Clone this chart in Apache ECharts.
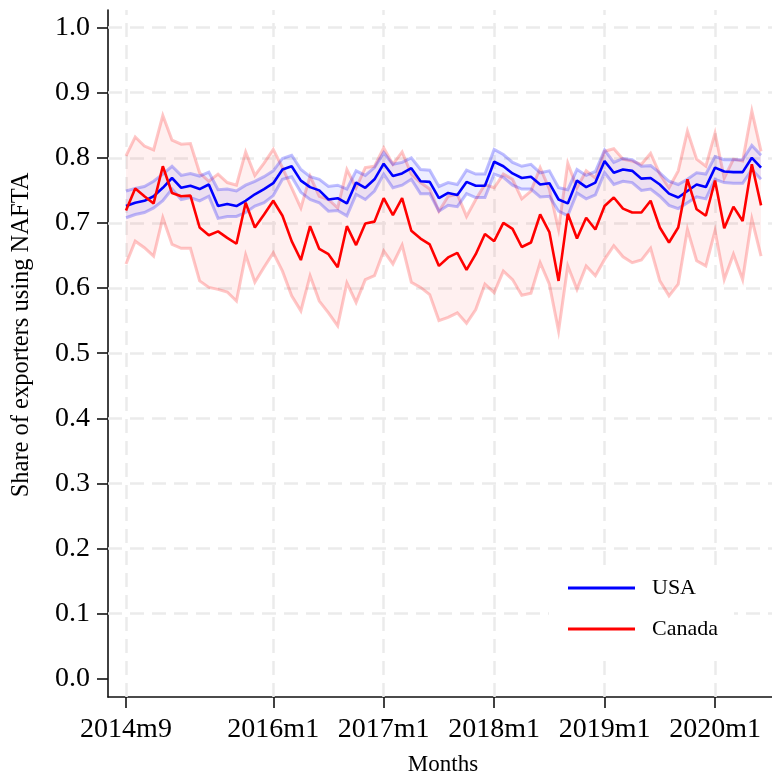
<!DOCTYPE html>
<html>
<head>
<meta charset="utf-8">
<script src="https://cdn.jsdelivr.net/npm/echarts@6/dist/echarts.min.js"></script>
<style>
  html, body { margin: 0; padding: 0; background: #fff; }
  #chart { width: 772px; height: 782px; }
</style>
</head>
<body>
<div id="chart"></div>
<script>
// Monthly series, first month 2014m9
const startYear = 2014;
const startMonth = 9;

// Share of exporters using NAFTA: point estimates
const usa = [
  0.726, 0.731, 0.734, 0.741, 0.754, 0.769, 0.754, 0.757, 0.752, 0.759,
  0.726, 0.729, 0.726, 0.734, 0.744, 0.752, 0.761, 0.782, 0.787, 0.765,
  0.755, 0.750, 0.736, 0.738, 0.730, 0.762, 0.754, 0.767, 0.791, 0.772,
  0.776, 0.784, 0.764, 0.763, 0.738, 0.746, 0.743, 0.763, 0.757, 0.757,
  0.794, 0.787, 0.776, 0.769, 0.771, 0.759, 0.761, 0.736, 0.730, 0.765,
  0.755, 0.762, 0.795, 0.777, 0.782, 0.780, 0.768, 0.769, 0.759, 0.745,
  0.739, 0.749, 0.759, 0.755, 0.785, 0.779, 0.778, 0.778, 0.800, 0.785
];
const canada = [
  0.719, 0.753, 0.741, 0.730, 0.787, 0.746, 0.741, 0.742, 0.693, 0.681,
  0.687, 0.677, 0.668, 0.731, 0.693, 0.713, 0.734, 0.711, 0.672, 0.643,
  0.695, 0.660, 0.652, 0.632, 0.695, 0.666, 0.699, 0.702, 0.738, 0.712,
  0.738, 0.688, 0.676, 0.667, 0.634, 0.647, 0.654, 0.628, 0.652, 0.683,
  0.672, 0.700, 0.691, 0.663, 0.670, 0.713, 0.686, 0.611, 0.714, 0.676,
  0.708, 0.690, 0.726, 0.739, 0.722, 0.716, 0.716, 0.734, 0.693, 0.670,
  0.693, 0.767, 0.721, 0.711, 0.765, 0.692, 0.725, 0.703, 0.790, 0.727
];

// Confidence bands
const usaLo = [
  0.708, 0.713, 0.716, 0.723, 0.734, 0.752, 0.736, 0.739, 0.734, 0.741,
  0.707, 0.710, 0.710, 0.716, 0.726, 0.731, 0.742, 0.767, 0.771, 0.747,
  0.736, 0.731, 0.718, 0.719, 0.711, 0.744, 0.736, 0.749, 0.775, 0.754,
  0.758, 0.767, 0.745, 0.745, 0.718, 0.727, 0.725, 0.745, 0.739, 0.739,
  0.775, 0.770, 0.758, 0.752, 0.752, 0.740, 0.741, 0.718, 0.711, 0.746,
  0.737, 0.743, 0.777, 0.759, 0.764, 0.762, 0.750, 0.752, 0.741, 0.727,
  0.722, 0.731, 0.740, 0.737, 0.767, 0.762, 0.761, 0.761, 0.782, 0.767
];
const usaHi = [
  0.749, 0.753, 0.756, 0.764, 0.775, 0.787, 0.773, 0.776, 0.772, 0.778,
  0.751, 0.752, 0.749, 0.758, 0.764, 0.771, 0.780, 0.799, 0.804, 0.782,
  0.771, 0.767, 0.756, 0.758, 0.752, 0.780, 0.773, 0.785, 0.808, 0.790,
  0.793, 0.800, 0.782, 0.781, 0.756, 0.762, 0.759, 0.781, 0.775, 0.775,
  0.813, 0.805, 0.793, 0.787, 0.790, 0.777, 0.780, 0.754, 0.751, 0.782,
  0.773, 0.779, 0.812, 0.793, 0.799, 0.797, 0.787, 0.788, 0.777, 0.764,
  0.759, 0.767, 0.777, 0.775, 0.802, 0.797, 0.797, 0.797, 0.819, 0.804
];
const canLo = [
  0.637, 0.672, 0.662, 0.649, 0.708, 0.667, 0.661, 0.661, 0.611, 0.601,
  0.598, 0.594, 0.580, 0.651, 0.609, 0.632, 0.654, 0.626, 0.588, 0.565,
  0.619, 0.580, 0.562, 0.542, 0.608, 0.578, 0.613, 0.619, 0.657, 0.637,
  0.666, 0.609, 0.601, 0.590, 0.550, 0.555, 0.562, 0.546, 0.567, 0.606,
  0.593, 0.626, 0.613, 0.589, 0.592, 0.639, 0.606, 0.534, 0.634, 0.598,
  0.634, 0.619, 0.644, 0.665, 0.648, 0.639, 0.643, 0.661, 0.611, 0.588,
  0.606, 0.690, 0.642, 0.634, 0.688, 0.613, 0.652, 0.613, 0.706, 0.649
];
const canHi = [
  0.803, 0.832, 0.818, 0.812, 0.865, 0.827, 0.821, 0.822, 0.777, 0.764,
  0.775, 0.762, 0.758, 0.809, 0.773, 0.792, 0.813, 0.785, 0.754, 0.723,
  0.772, 0.741, 0.736, 0.723, 0.782, 0.754, 0.785, 0.787, 0.815, 0.790,
  0.809, 0.775, 0.762, 0.752, 0.718, 0.741, 0.744, 0.710, 0.736, 0.759,
  0.754, 0.775, 0.767, 0.737, 0.749, 0.785, 0.752, 0.690, 0.792, 0.754,
  0.780, 0.769, 0.810, 0.814, 0.798, 0.795, 0.790, 0.807, 0.775, 0.754,
  0.780, 0.841, 0.798, 0.787, 0.838, 0.769, 0.798, 0.795, 0.872, 0.810
];

// Axis tick labels
const xTickLabels = ['2014m9', '2016m1', '2017m1', '2018m1', '2019m1', '2020m1'];
const yTicks = [0, 0.1, 0.2, 0.3, 0.4, 0.5, 0.6, 0.7, 0.8, 0.9, 1.0];

// Month labels such as "2015m3", indexed from the first month
const months = usa.map((_, i) => {
  const m = startMonth - 1 + i;
  return (startYear + Math.floor(m / 12)) + 'm' + ((m % 12) + 1);
});
const xTicks = xTickLabels.map(l => months.indexOf(l));

const pts = arr => arr.map((v, i) => [i, v]);

const FONT = "'Liberation Serif', 'Times New Roman', serif";
const GRID_LINE = { color: '#ebebeb', width: 2.5, type: [14, 8] };

// Shaded range between two bounds, outlined along both edges
function bandSeries(name, lo, hi, edge, fill, z) {
  return {
    name: name,
    type: 'custom',
    z: z,
    silent: true,
    data: lo.map((v, i) => [i, v, hi[i]]),
    encode: { x: 0, y: [1, 2] },
    renderItem: (params, api) => {
      if (params.dataIndexInside !== 0) return null;
      const n = params.dataInsideLength;
      const upper = [], lower = [];
      for (let j = 0; j < n; j++) {
        const x = api.value(0, j);
        upper.push(api.coord([x, api.value(2, j)]));
        lower.push(api.coord([x, api.value(1, j)]));
      }
      return {
        type: 'group',
        children: [
          { type: 'polygon', shape: { points: upper.concat(lower.slice().reverse()) }, style: { fill: fill, stroke: null } },
          { type: 'polyline', shape: { points: upper }, style: { fill: null, stroke: edge, lineWidth: 3 } },
          { type: 'polyline', shape: { points: lower }, style: { fill: null, stroke: edge, lineWidth: 3 } }
        ]
      };
    }
  };
}

const chart = echarts.init(document.getElementById('chart'), null, { renderer: 'canvas' });

chart.setOption({
  animation: false,
  backgroundColor: '#fff',
  grid: { left: 108, right: 0, top: 10, bottom: 85, containLabel: false },
  xAxis: {
    type: 'value',
    min: -1.956,
    max: 70.19,
    axisLine: { show: true, onZero: false, lineStyle: { color: '#111', width: 1.6 } },
    axisTick: { show: true, length: 11, customValues: xTicks, lineStyle: { color: '#111', width: 1.6 } },
    axisLabel: {
      customValues: xTicks,
      formatter: v => months[Math.round(v)],
      margin: 19,
      fontFamily: FONT, fontSize: 28, color: '#000'
    },
    splitLine: { show: false }
  },
  yAxis: {
    type: 'value',
    min: -0.028,
    max: 1.027,
    axisLine: { show: true, onZero: false, lineStyle: { color: '#111', width: 1.6 } },
    axisTick: { show: true, length: 11, customValues: yTicks, lineStyle: { color: '#111', width: 1.6 } },
    axisLabel: {
      customValues: yTicks,
      formatter: v => v.toFixed(1),
      margin: 18,
      fontFamily: FONT, fontSize: 28, color: '#000'
    },
    splitLine: { show: false }
  },
  legend: {
    orient: 'vertical',
    left: 549,
    top: 565,
    z: 20,
    data: [{ name: 'USA', icon: 'rect' }, { name: 'Canada', icon: 'rect' }],
    backgroundColor: '#fff',
    padding: [11, 16, 14, 19],
    itemWidth: 67,
    itemHeight: 3,
    itemGap: 17,
    textStyle: { fontFamily: FONT, fontSize: 22, lineHeight: 24, color: '#000', padding: [0, 0, 0, 12] }
  },
  graphic: [
    {
      type: 'text', x: 22, y: 335, rotation: Math.PI / 2,
      style: { text: 'Share of exporters using NAFTA', font: "24.5px " + FONT, fill: '#000', align: 'center', verticalAlign: 'middle' }
    },
    {
      type: 'text', x: 443, y: 765,
      style: { text: 'Months', font: "23px " + FONT, fill: '#000', align: 'center', verticalAlign: 'middle' }
    }
  ],
  series: [
    bandSeries('Canada range', canLo, canHi, 'rgba(255,0,0,0.22)', 'rgba(255,0,0,0.06)', 10),
    bandSeries('USA range', usaLo, usaHi, 'rgba(0,0,255,0.25)', 'rgba(0,0,255,0.07)', 11),
    {
      name: 'USA', type: 'line', z: 12, symbol: 'none',
      data: pts(usa),
      color: '#0000ff',
      lineStyle: { color: '#0000ff', width: 2.6 },
      markLine: {
        z: 1, silent: true, symbol: ['none', 'none'], label: { show: false },
        lineStyle: GRID_LINE, emphasis: { disabled: true },
        data: [
          ...yTicks.filter(v => v > 0).map(v => ({ yAxis: v })),
          ...xTicks.map(i => ({ xAxis: i }))
        ]
      }
    },
    {
      name: 'Canada', type: 'line', z: 13, symbol: 'none',
      data: pts(canada),
      color: '#ff0000',
      lineStyle: { color: '#ff0000', width: 2.6 }
    }
  ]
});
</script>
</body>
</html>
